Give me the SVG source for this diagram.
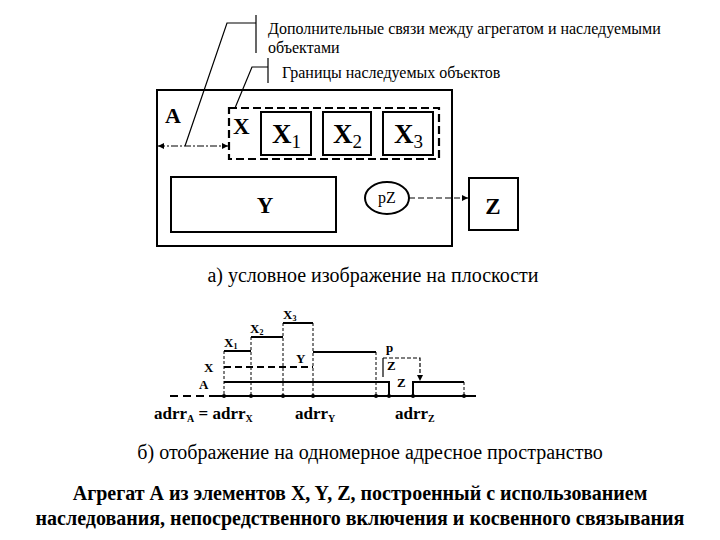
<svg xmlns="http://www.w3.org/2000/svg" width="720" height="540" viewBox="0 0 720 540">
<style>
.b{font-weight:bold}
.ln{stroke:#000;fill:none;stroke-width:2}
.th{stroke:#000;fill:none;stroke-width:1.2}
.dsh{stroke:#000;fill:none;stroke-width:2.2;stroke-dasharray:8 4}
.vd{stroke:#000;fill:none;stroke-width:1;stroke-dasharray:3 2}
.note{font-size:16px}
.cap{font-size:20px}
.sm{font-size:13px;font-weight:bold}
</style>
<defs>
<marker id="ah" viewBox="0 0 8 8" refX="8" refY="4" markerWidth="6" markerHeight="6" orient="auto-start-reverse" markerUnits="userSpaceOnUse">
<path d="M0,0 L8,4 L0,8 z" fill="#000"/>
</marker>
</defs>
<rect width="720" height="540" fill="#fff"/>

<g id="notes">
<polyline class="th" points="185,146 227,23 256,23"/>
<line class="th" x1="256" y1="15" x2="256" y2="53"/>
<text font-family="Liberation Serif" class="note" x="268" y="34">Дополнительные связи между агрегатом и наследуемыми</text>
<text font-family="Liberation Serif" class="note" x="268" y="53">объектами</text>
<polyline class="th" points="235,108 252,67 268,67"/>
<line class="th" x1="268" y1="58" x2="268" y2="83"/>
<text font-family="Liberation Serif" class="note" x="282" y="78">Границы наследуемых объектов</text>
</g>

<g id="nodeA">
<rect class="ln" x="157" y="90" width="295" height="156"/>
<text font-family="Liberation Serif" class="b" x="165" y="123" font-size="22">A</text>
</g>
<g id="nodeX">
<rect class="dsh" x="229" y="108" width="210" height="51"/>
<text font-family="Liberation Serif" class="b" x="233" y="134" font-size="23">X</text>
</g>
<g id="nodeX1">
<rect class="ln" x="261" y="112" width="50" height="43"/>
<text font-family="Liberation Serif" class="b" x="272" y="143" font-size="27">X<tspan font-weight="normal" font-size="19" dy="5">1</tspan></text>
</g>
<g id="nodeX2">
<rect class="ln" x="323" y="112" width="48" height="43"/>
<text font-family="Liberation Serif" class="b" x="333" y="143" font-size="27">X<tspan font-weight="normal" font-size="19" dy="5">2</tspan></text>
</g>
<g id="nodeX3">
<rect class="ln" x="383" y="112" width="50" height="43"/>
<text font-family="Liberation Serif" class="b" x="394" y="143" font-size="27">X<tspan font-weight="normal" font-size="19" dy="5">3</tspan></text>
</g>
<g id="nodeY">
<rect class="ln" x="171" y="177" width="165" height="55"/>
<text font-family="Liberation Serif" class="b" x="265" y="213" font-size="23" text-anchor="middle">Y</text>
</g>
<g id="nodePZ">
<ellipse class="ln" cx="387" cy="198" rx="22" ry="16"/>
<text font-family="Liberation Serif" x="387" y="203" font-size="16" text-anchor="middle">pZ</text>
</g>
<g id="nodeZ">
<rect class="ln" x="469" y="178" width="49" height="52"/>
<text font-family="Liberation Serif" class="b" x="493" y="214" font-size="23" text-anchor="middle">Z</text>
</g>

<g id="connectors">
<line class="th" x1="158" y1="146" x2="228" y2="146" stroke-dasharray="7 2 2 2" marker-start="url(#ah)" marker-end="url(#ah)"/>
<line class="th" x1="409" y1="198" x2="468" y2="198" stroke-dasharray="6 3" marker-end="url(#ah)"/>
</g>

<text font-family="Liberation Serif" class="cap" x="373" y="282" text-anchor="middle">а) условное изображение на плоскости</text>

<g id="memory">
<line class="ln" x1="170" y1="396" x2="213" y2="396" stroke-dasharray="8 5"/>
<line class="ln" x1="213" y1="396" x2="476" y2="396"/>
<polyline class="ln" points="224,382 389,382 389,396"/>
<line class="ln" x1="224" y1="367" x2="313" y2="367" stroke-dasharray="7 4"/>
<line class="ln" x1="224" y1="351" x2="251" y2="351"/>
<line class="ln" x1="251" y1="337" x2="283" y2="337"/>
<line class="ln" x1="283" y1="323" x2="313" y2="323"/>
<line class="ln" x1="313" y1="352" x2="376" y2="352"/>
<line class="vd" x1="224" y1="351" x2="224" y2="396"/>
<line class="vd" x1="251" y1="337" x2="251" y2="396"/>
<line class="vd" x1="283" y1="323" x2="283" y2="396"/>
<line class="vd" x1="313" y1="323" x2="313" y2="396"/>
<line class="vd" x1="376" y1="352" x2="376" y2="396"/>
<line class="th" x1="383" y1="358" x2="383" y2="377"/>
<polyline class="th" points="383,358 420,358 420,381" stroke-dasharray="4 2" marker-end="url(#ah)"/>
<polyline class="ln" points="413,396 413,382 464,382"/>
<line class="vd" x1="464" y1="382" x2="464" y2="396"/>
<g fill="#000">
<circle cx="224" cy="396" r="2"/><circle cx="251" cy="396" r="2"/><circle cx="283" cy="396" r="2"/><circle cx="313" cy="396" r="2"/>
<circle cx="376" cy="396" r="2"/><circle cx="389" cy="396" r="2"/><circle cx="413" cy="396" r="2"/><circle cx="464" cy="396" r="2"/>
</g>
<text font-family="Liberation Serif" class="sm" x="224" y="347">X<tspan font-size="8" dy="2">1</tspan></text>
<text font-family="Liberation Serif" class="sm" x="250" y="333">X<tspan font-size="8" dy="2">2</tspan></text>
<text font-family="Liberation Serif" class="sm" x="283" y="319">X<tspan font-size="8" dy="2">3</tspan></text>
<text font-family="Liberation Serif" class="sm" x="204" y="372">X</text>
<text font-family="Liberation Serif" class="sm" x="199" y="389">A</text>
<text font-family="Liberation Serif" class="sm" x="296" y="363">Y</text>
<text font-family="Liberation Serif" class="sm" x="386" y="352">p</text>
<text font-family="Liberation Serif" class="sm" x="387" y="370">Z</text>
<text font-family="Liberation Serif" class="sm" x="397" y="387">Z</text>
<text font-family="Liberation Serif" class="b" x="154" y="419" font-size="17">adrr<tspan font-size="10" dy="3">A</tspan><tspan dy="-3"> = adrr</tspan><tspan font-size="10" dy="3">X</tspan></text>
<text font-family="Liberation Serif" class="b" x="295" y="419" font-size="17">adrr<tspan font-size="10" dy="3">Y</tspan></text>
<text font-family="Liberation Serif" class="b" x="395" y="419" font-size="17">adrr<tspan font-size="10" dy="3">Z</tspan></text>
</g>

<text font-family="Liberation Serif" class="cap" x="370" y="459" text-anchor="middle">б) отображение на одномерное адресное пространство</text>
<text font-family="Liberation Serif" class="b" x="360" y="500" font-size="20" text-anchor="middle">Агрегат А из элементов X, Y, Z,  построенный с использованием</text>
<text font-family="Liberation Serif" class="b" x="360" y="525" font-size="20" text-anchor="middle">наследования, непосредственного включения и косвенного связывания</text>
</svg>
